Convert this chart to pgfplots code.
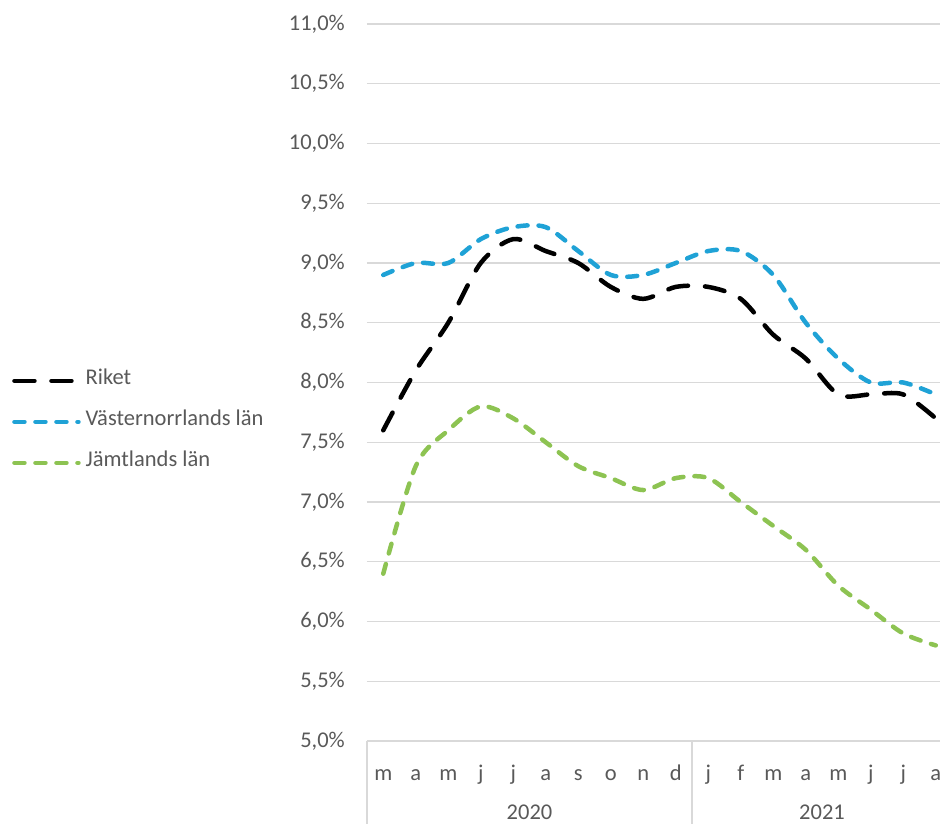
\documentclass[border=0pt]{standalone}
\usepackage{fontspec}
\setmainfont{Carlito}
\usepackage{pgfplots}
\usepackage{pgfplotstable}
\pgfplotsset{compat=1.18}
\definecolor{txt}{HTML}{595959}
\definecolor{grd}{HTML}{D9D9D9}
\definecolor{blu}{HTML}{1FA2D6}
\definecolor{grn}{HTML}{8DC352}

\pgfplotstableread{
x riket vast jamt
0  7.6 8.9 6.4
1  8.1 9.0 7.3
2  8.5 9.0 7.6
3  9.0 9.2 7.8
4  9.2 9.3 7.7
5  9.1 9.3 7.5
6  9.0 9.1 7.3
7  8.8 8.9 7.2
8  8.7 8.9 7.1
9  8.8 9.0 7.2
10 8.8 9.1 7.2
11 8.7 9.1 7.0
12 8.4 8.9 6.8
13 8.2 8.5 6.6
14 7.9 8.2 6.3
15 7.9 8.0 6.1
16 7.9 8.0 5.9
17 7.7 7.9 5.8
}\data

\begin{document}
\fontsize{22.5}{26}\selectfont
\begin{tikzpicture}
\useasboundingbox (0,0) rectangle (940pt,823pt);
\begin{axis}[
 at={(367pt,82pt)}, anchor=south west,
 scale only axis, width=585pt, height=717pt,
 xmin=-0.5, xmax=17.5, ymin=5, ymax=11,
 axis line style={draw=none},
 ytick={5,5.5,6,6.5,7,7.5,8,8.5,9,9.5,10,10.5,11},
 ymajorgrids, grid style={grd, line width=1.3pt},
 major tick length=0pt,
 xtick={0,...,17},
 xticklabels={m,a,m,j,j,a,s,o,n,d,j,f,m,a,m,j,j,a},
 xticklabel style={anchor=base, inner sep=0pt, yshift=-39pt, text=txt},
 yticklabel style={anchor=east, inner sep=0pt, xshift=-22pt, text=txt},
 yticklabel={\pgfmathprintnumber[fixed,fixed zerofill,precision=1,use comma]{\tick}\%},
 /pgf/number format/assume math mode=true,
 clip=false,
 legend style={at={(axis description cs:-0.6068,0.445)}, anchor=west, draw=none, fill=none, inner sep=0pt, text=txt,
   nodes={inner sep=0pt, text height=11pt, text depth=3pt}, row sep=27pt, column sep=5pt},
 legend cell align=left,
 legend image code/.code={\draw[#1] (0pt,0pt) -- (64pt,0pt);},
]
\addplot[black, line width=4.5pt, line cap=round, dash pattern=on 20pt off 17pt, smooth, tension=0.5] table[x=x,y=riket]{\data};
\addlegendentry{Riket}
\addplot[blu, line width=4.5pt, line cap=round, dash pattern=on 10pt off 11pt, smooth, tension=0.5] table[x=x,y=vast]{\data};
\addlegendentry{Västernorrlands län}
\addplot[grn, line width=4.5pt, line cap=round, dash pattern=on 10pt off 11pt, smooth, tension=0.5] table[x=x,y=jamt]{\data};
\addlegendentry{Jämtlands län}
\draw[grd, line width=1.3pt] (axis cs:-0.5,5) -- ++(0pt,-95pt);
\draw[grd, line width=1.3pt] (axis cs:9.5,5) -- ++(0pt,-95pt);
\draw[grd, line width=1.3pt] (axis cs:17.5,5) -- ++(0pt,-95pt);
\node[anchor=base, inner sep=0pt, text=txt, yshift=-78pt] at (axis cs:4.5,5) {2020};
\node[anchor=base, inner sep=0pt, text=txt, yshift=-78pt] at (axis cs:13.5,5) {2021};
\end{axis}
\end{tikzpicture}
\end{document}
